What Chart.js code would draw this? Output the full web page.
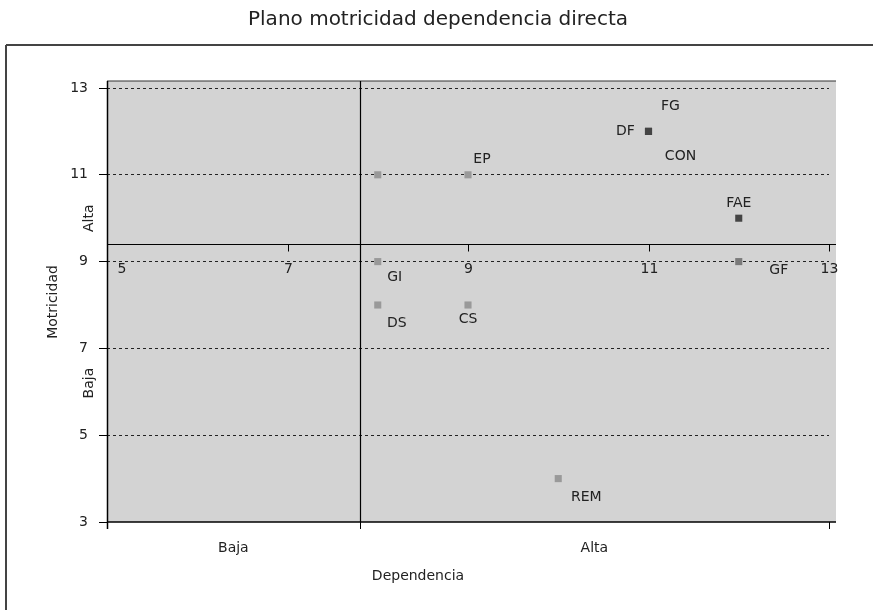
<!DOCTYPE html>
<html>
<head>
<meta charset="utf-8">
<script src="https://cdn.jsdelivr.net/npm/chart.js@4"></script>
<style>
html,body{margin:0;padding:0;background:#fff;}
#contenedor{width:873px;height:610px;}
</style>
</head>
<body>
<div id="contenedor"><canvas id="grafico"></canvas></div>
<script>
//datos
const titulo = 'Plano motricidad dependencia directa';
const etiquetas = ['', 'EP', 'FG', 'DF', 'CON', 'FAE', 'GI', 'GF', 'DS', 'CS', 'REM'];
const dependencia = [8, 9, 11, 11, 11, 12, 8, 12, 8, 9, 10];
const motricidad = [11, 11, 12, 12, 12, 10, 9, 9, 8, 8, 4];
const colores = ['#999999', '#999999', '#444444', '#444444', '#444444', '#444444', '#999999', '#7a7a7a', '#999999', '#999999', '#999999'];
const ticksX = [5, 7, 9, 11, 13];
const corteX = 7.8;   // linea vertical (dependencia)
const corteY = 9.4;   // linea horizontal (motricidad)
const zonasX = ['Baja', 'Alta'];
const zonasY = ['Baja', 'Alta'];

const fuente = '"DejaVu Sans", sans-serif';

//posicion de las etiquetas de los puntos (desplazamiento en px)
const desplaz = {
  EP: [14, -15], FG: [22, -25], DF: [-23, 0], CON: [32, 25], FAE: [0, -15],
  GI: [17, 16], GF: [40, 9], DS: [19, 18], CS: [0, 14], REM: [28, 19]
};

const puntos = [];
for (let i = 0; i < etiquetas.length; i++) {
  puntos.push({x: dependencia[i], y: motricidad[i]});
}

function linea(ctx, x1, y1, x2, y2, color, ancho) {
  ctx.save();
  ctx.strokeStyle = color;
  ctx.lineWidth = ancho;
  ctx.beginPath();
  ctx.moveTo(x1, y1);
  ctx.lineTo(x2, y2);
  ctx.stroke();
  ctx.restore();
}

function texto(ctx, t, x, y, tam, rot) {
  ctx.save();
  ctx.fillStyle = '#222';
  ctx.font = tam + 'px ' + fuente;
  ctx.textAlign = 'center';
  ctx.textBaseline = 'middle';
  ctx.translate(x, y);
  if (rot) ctx.rotate(-Math.PI / 2);
  ctx.fillText(t, 0, 0);
  ctx.restore();
}

const fondo = {
  id: 'fondo',
  beforeDraw(chart) {
    const ctx = chart.ctx;
    const a = chart.chartArea;
    ctx.save();
    ctx.fillStyle = '#d3d3d3';
    ctx.fillRect(a.left, a.top - 7, a.right - a.left + 7, a.bottom - a.top + 7);
    ctx.restore();
    // marco exterior
    linea(ctx, 6, 45, 873, 45, '#444', 2);
    linea(ctx, 6, 45, 6, 610, '#444', 2);
    texto(ctx, titulo, 438, 20, 20, false);
  },
  beforeDatasetsDraw(chart) {
    const ctx = chart.ctx;
    const a = chart.chartArea;
    const sx = chart.scales.x;
    const sy = chart.scales.y;
    // bordes del area
    linea(ctx, a.left, a.top - 7, a.right + 7, a.top - 7, '#333', 1);
    linea(ctx, a.left + 0.5, a.top - 7, a.left + 0.5, a.bottom + 7, '#000', 1.5);
    linea(ctx, a.left, a.bottom, a.right + 7, a.bottom, '#000', 1.5);
    // ejes de corte
    const cx = Math.round(sx.getPixelForValue(corteX)) + 0.5;
    const cy = Math.round(sy.getPixelForValue(corteY)) + 0.5;
    linea(ctx, cx, a.top - 7, cx, a.bottom, '#000', 1.2);
    linea(ctx, a.left, cy, a.right + 7, cy, '#000', 1.2);
    // ticks eje horizontal central
    ticksX.forEach(v => {
      const px = Math.round(sx.getPixelForValue(v)) + 0.5;
      linea(ctx, px, cy, px, cy + 7, '#000', 1);
      let lx = px;
      if (lx < a.left + 12) lx = a.left + 15;
      texto(ctx, String(v), lx, cy + 25, 14, false);
    });
    // eje inferior con zonas
    const bordes = [sx.min, corteX, sx.max];
    bordes.forEach(v => {
      const px = Math.round(sx.getPixelForValue(v)) + 0.5;
      linea(ctx, px, a.bottom, px, a.bottom + 7, '#000', 1);
    });
    texto(ctx, zonasX[0], sx.getPixelForValue((sx.min + corteX) / 2), 548, 14, false);
    texto(ctx, zonasX[1], sx.getPixelForValue((corteX + sx.max) / 2), 548, 14, false);
    texto(ctx, 'Dependencia', sx.getPixelForValue((sx.min + sx.max) / 2) - 50, 576, 14, false);
    // eje vertical con zonas
    texto(ctx, zonasY[0], 89, sy.getPixelForValue(6.2), 14, true);
    texto(ctx, zonasY[1], 89, sy.getPixelForValue(10), 14, true);
    texto(ctx, 'Motricidad', 53, 302, 14, true);
  },
  afterDatasetsDraw(chart) {
    const ctx = chart.ctx;
    const meta = chart.getDatasetMeta(0);
    meta.data.forEach((p, i) => {
      const e = etiquetas[i];
      if (!e) return;
      const d = desplaz[e] || [0, -14];
      texto(ctx, e, p.x + d[0], p.y + d[1], 14, false);
    });
  }
};

new Chart(document.getElementById('grafico'), {
  type: 'scatter',
  data: {
    datasets: [{
      label: 'Variables',
      data: puntos,
      pointStyle: 'rect',
      pointRadius: 5,
      pointBorderWidth: 0,
      pointBackgroundColor: colores,
      pointBorderColor: colores
    }]
  },
  options: {
    responsive: true,
    maintainAspectRatio: false,
    animation: false,
    events: [],
    layout: {padding: {left: 10, right: 44, top: 88, bottom: 88}},
    plugins: {legend: {display: false}, tooltip: {enabled: false}},
    scales: {
      x: {
        type: 'linear', min: 5, max: 13, display: false
      },
      y: {
        type: 'linear', min: 3, max: 13,
        afterFit(scale) { scale.width = 97; },
        border: {display: false, dash: [3, 3]},
        grid: {
          color: c => (c.tick && c.tick.value === 3) ? 'rgba(0,0,0,0)' : '#222',
          lineWidth: 1,
          tickLength: 8,
          tickColor: '#000',
          tickBorderDash: [],
          drawTicks: true
        },
        ticks: {
          stepSize: 2,
          padding: 11,
          color: '#222',
          font: {family: fuente, size: 14}
        }
      }
    }
  },
  plugins: [fondo]
});
</script>
</body>
</html>
